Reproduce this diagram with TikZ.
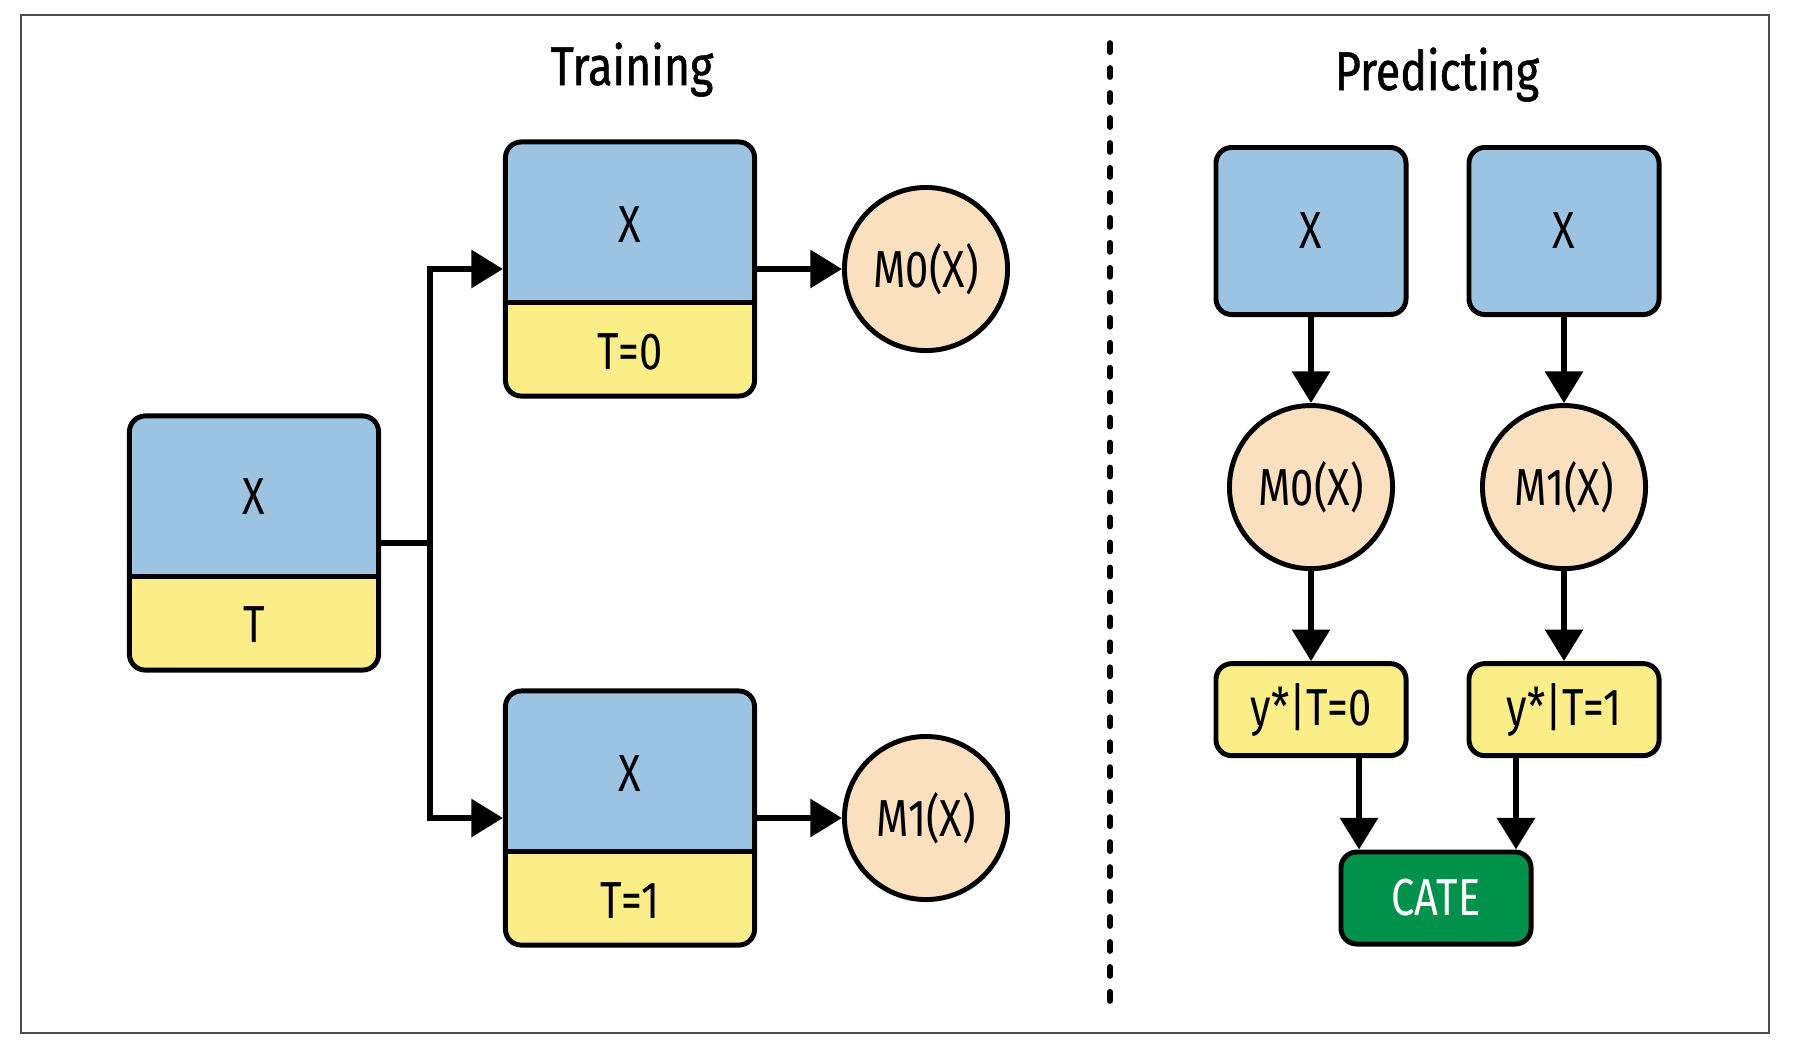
\documentclass[tikz,border=0pt]{standalone}
\usepackage{fontspec}
\setmainfont{Fira Sans}[FakeStretch=0.8]
\newfontfamily\headfont{Fira Sans}[FakeStretch=0.82,FakeBold=1]
\usepackage{xcolor}
\usetikzlibrary{arrows.meta,positioning}
\definecolor{xblue}{HTML}{9DC3E3}
\definecolor{tyellow}{HTML}{FBEE88}
\definecolor{mpeach}{HTML}{FBE0BF}
\definecolor{cgreen}{HTML}{00914A}
\tikzset{%
  arrow/.style={line width=1.8pt,-{Triangle[length=9pt,width=10.5pt]}},
  link/.style={line width=1.8pt},
  splitbox/.style={draw,line width=1.4pt,rounded corners=4.5pt,fill=tyellow,
    minimum width=2.49cm,minimum height=2.54cm,inner sep=0pt,
    path picture={%
      \fill[xblue,sharp corners] (path picture bounding box.north west)
        rectangle ([yshift=-1.6cm]path picture bounding box.north east);
      \draw[line width=1.4pt,sharp corners] ([yshift=-1.6cm]path picture bounding box.north west)
        -- ([yshift=-1.6cm]path picture bounding box.north east);}},
  databox/.style={draw,line width=1.4pt,rounded corners=4.5pt,fill=xblue,minimum width=1.9cm,minimum height=1.67cm},
  outbox/.style={draw,line width=1.4pt,rounded corners=4.5pt,fill=tyellow,minimum width=1.9cm,minimum height=0.92cm},
  model/.style={circle,draw,line width=1.4pt,fill=mpeach,minimum size=1.63cm,inner sep=0pt},
  heading/.style={anchor=base,font=\headfont\fontsize{15.5}{18}\selectfont},
}

\begin{document}
\begin{tikzpicture}[x=0.01cm,y=-0.01cm,node distance=0.86cm,font=\fontsize{14.8}{17}\selectfont]
      \useasboundingbox (0,0) rectangle (1794,1047);
      \draw[black!70,line width=0.8pt] (21,15) rectangle (1769,1033);

      \node[heading] (training) at (632,85) {Training};
      \node[heading] (predicting) at (1437,90) {Predicting};
      \draw[line width=1.6pt,line cap=round,dash pattern=on 2.6pt off 4.5pt] (1110,43) -- (1110,1001);

      \node[splitbox] (lbox) at (254,543) {};
      \node (lboxx) at ([yshift=-0.83cm]lbox.north) {X};
      \node (lboxt) at ([yshift=0.48cm]lbox.south) {T};
      \node[splitbox] (tbox) at (630,269) {};
      \node (tboxx) at ([yshift=-0.85cm]tbox.north) {X};
      \node (tboxt) at ([yshift=0.47cm]tbox.south) {T=0};
      \node[splitbox] (bbox) at (630,818) {};
      \node (bboxx) at ([yshift=-0.85cm]bbox.north) {X};
      \node (bboxt) at ([yshift=0.47cm]bbox.south) {T=1};
      \node[model] (mzero) at (926,269) {M0(X)};
      \node[model] (mone) at (926,818) {M1(X)};

      \coordinate (fork) at (430,543);
      \draw[link] (lbox.east) -- (fork);
      \draw[arrow] (fork) |- (tbox.west);
      \draw[arrow] (fork) |- (bbox.west);
      \draw[arrow] (tbox.east) -- (mzero);
      \draw[arrow] (bbox.east) -- (mone);

      \node[databox] (pxa) at (1311,231) {X};
      \node[databox] (pxb) at (1564,231) {X};
      \node[model,below=of pxa] (pma) {M0(X)};
      \node[model,below=of pxb] (pmb) {M1(X)};
      \node[outbox,below=0.9cm of pma] (pya) {y*|T=0};
      \node[outbox,below=0.9cm of pmb] (pyb) {y*|T=1};
      \node[outbox,fill=cgreen,text=white] (cate) at (1436,898) {CATE};

      \draw[arrow] (pxa) -- (pma);
      \draw[arrow] (pxb) -- (pmb);
      \draw[arrow] (pma) -- (pya);
      \draw[arrow] (pmb) -- (pyb);
      \draw[arrow] ([xshift=0.48cm]pya.south) -- ([xshift=0.48cm]pya.south |- cate.north);
      \draw[arrow] ([xshift=-0.48cm]pyb.south) -- ([xshift=-0.48cm]pyb.south |- cate.north);
\end{tikzpicture}
\end{document}
